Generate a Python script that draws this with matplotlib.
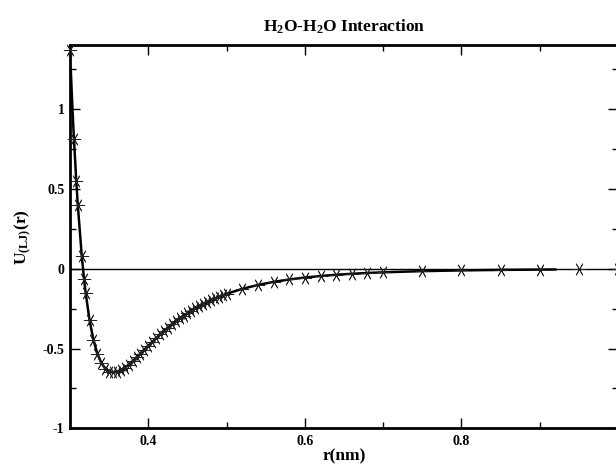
import matplotlib
matplotlib.use("Agg")
import matplotlib.pyplot as plt
from matplotlib.ticker import MultipleLocator

plt.rcParams['font.family'] = ['Liberation Serif', 'DejaVu Serif']
plt.rcParams['font.weight'] = 'bold'
plt.rcParams['mathtext.fontset'] = 'custom'
plt.rcParams['mathtext.rm'] = 'Liberation Serif:bold'
plt.rcParams['mathtext.bf'] = 'Liberation Serif:bold'
plt.rcParams['mathtext.it'] = 'Liberation Serif:bold'

# Sampled points (stars)
r_pts = [0.300, 0.305, 0.308, 0.310, 0.315, 0.318, 0.320, 0.325, 0.330, 0.335,
         0.340, 0.345, 0.350, 0.355, 0.360, 0.365, 0.370, 0.375, 0.380, 0.385,
         0.390, 0.395, 0.400, 0.405, 0.410, 0.415, 0.420, 0.425, 0.430, 0.435,
         0.440, 0.445, 0.450, 0.455, 0.460, 0.465, 0.470, 0.475, 0.480, 0.485,
         0.490, 0.495, 0.500, 0.52, 0.54, 0.56, 0.58, 0.60, 0.62, 0.64,
         0.66, 0.68, 0.70, 0.75, 0.80, 0.85, 0.90, 0.95, 1.00]
u_pts = [1.370, 0.8165, 0.551, 0.3975, 0.0827, -0.0662, -0.1514, -0.3231, -0.4465, -0.5326,
         -0.5900, -0.6254, -0.6440, -0.6500, -0.6464, -0.6357, -0.6200, -0.6006, -0.5788, -0.5554,
         -0.5312, -0.5066, -0.4821, -0.4579, -0.4344, -0.4115, -0.3895, -0.3684, -0.3482, -0.3290,
         -0.3108, -0.2935, -0.2771, -0.2616, -0.2470, -0.2332, -0.2202, -0.2080, -0.1965, -0.1856,
         -0.1754, -0.1658, -0.1568, -0.1257, -0.1013, -0.0821, -0.0670, -0.0549, -0.0453, -0.0375,
         -0.0313, -0.0262, -0.0221, -0.0146, -0.0100, -0.0069, -0.0049, -0.0036, -0.0026]

# Continuous curve
r_line = [0.301, 0.302, 0.303, 0.304, 0.305, 0.308, 0.310, 0.315, 0.318, 0.320,
          0.325, 0.330, 0.335, 0.340, 0.345, 0.350, 0.355, 0.360, 0.365, 0.370,
          0.375, 0.380, 0.385, 0.390, 0.395, 0.400, 0.410, 0.420, 0.430, 0.440,
          0.450, 0.460, 0.470, 0.480, 0.490, 0.500, 0.52, 0.54, 0.56, 0.58,
          0.60, 0.62, 0.64, 0.66, 0.68, 0.70, 0.75, 0.80, 0.85, 0.90, 0.92]
u_line = [1.247, 1.130, 1.020, 0.9155, 0.8165, 0.551, 0.3975, 0.0827, -0.0662, -0.1514,
          -0.3231, -0.4465, -0.5326, -0.5900, -0.6254, -0.6440, -0.6500, -0.6464, -0.6357, -0.6200,
          -0.6006, -0.5788, -0.5554, -0.5312, -0.5066, -0.4821, -0.4344, -0.3895, -0.3482, -0.3108,
          -0.2771, -0.2470, -0.2202, -0.1965, -0.1754, -0.1568, -0.1257, -0.1013, -0.0821, -0.0670,
          -0.0549, -0.0453, -0.0375, -0.0313, -0.0262, -0.0221, -0.0146, -0.0100, -0.0069, -0.0049, -0.0043]

x_ticks = [0.4, 0.6, 0.8]
y_ticks = [-1, -0.5, 0, 0.5, 1]
y_ticklabels = ['-1', '-0.5', '0', '0.5', '1']

fig = plt.figure(figsize=(6.16, 4.65), dpi=100)
ax = fig.add_axes([70/616, (465-428.3)/465, 548/616, (428.3-45.5)/465])

ax.axhline(0, color='black', lw=1.0, zorder=1)
ax.plot(r_line, u_line, color='black', lw=1.8, zorder=2, clip_on=False)
ax.plot(r_pts, u_pts, linestyle='none', marker=(6, 2, 90), markersize=9.5,
        markeredgewidth=0.6, color='#222222', zorder=3, clip_on=False)

ax.set_xlim(0.3, 1.0)
ax.set_ylim(-1, 1.4)
ax.set_xticks(x_ticks)
ax.set_xticklabels([f'{v:g}' for v in x_ticks])
ax.set_yticks(y_ticks)
ax.set_yticklabels(y_ticklabels)
ax.xaxis.set_minor_locator(MultipleLocator(0.1))
ax.yaxis.set_minor_locator(MultipleLocator(0.25))

for s in ax.spines.values():
    s.set_linewidth(2.0)
ax.tick_params(which='both', direction='in', top=True, right=True, width=1.0)
ax.tick_params(which='major', length=7)
ax.tick_params(which='minor', length=4)
ax.tick_params(axis='x', which='major', pad=5, labelsize=10)
ax.tick_params(axis='y', which='major', pad=4, labelsize=10)
for lab in ax.get_xticklabels() + ax.get_yticklabels():
    lab.set_fontweight('bold')

ax.set_title(r'H$_{2}$O-H$_{2}$O Interaction', fontsize=12.5, fontweight='bold', pad=10)
ax.set_xlabel('r(nm)', fontsize=12.5, fontweight='bold', labelpad=0)
ax.set_ylabel(r'U$_{\mathrm{(LJ)}}$(r)', fontsize=12.5, fontweight='bold', labelpad=6)

fig.savefig('out.png', dpi=100)
